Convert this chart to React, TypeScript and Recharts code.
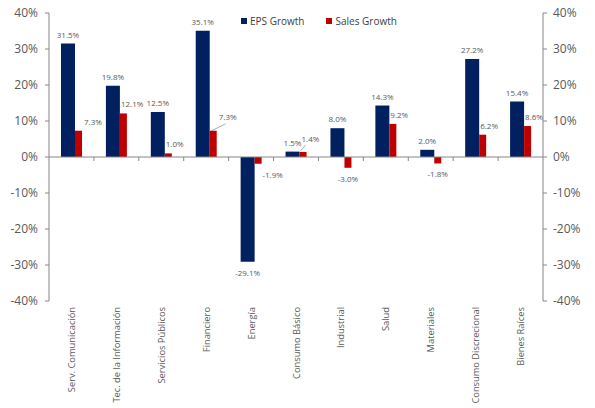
import { BarChart, Bar, XAxis, YAxis, ReferenceLine, LabelList } from "recharts"

const sectors = [
  "Serv. Comunicación",
  "Tec. de la Información",
  "Servicios Públicos",
  "Financiero",
  "Energía",
  "Consumo Básico",
  "Industrial",
  "Salud",
  "Materiales",
  "Consumo Discrecional",
  "Bienes Raíces",
]
const epsGrowth = [31.5, 19.8, 12.5, 35.1, -29.1, 1.5, 8.0, 14.3, 2.0, 27.2, 15.4]
const salesGrowth = [7.3, 12.1, 1.0, 7.3, -1.9, 1.4, -3.0, 9.2, -1.8, 6.2, 8.6]
const yTicks = [-40, -30, -20, -10, 0, 10, 20, 30, 40]

const NAVY = "#002060"
const RED = "#c00000"
const GRAY = "#868686"
const TEXT = "#595959"
const FONT = "'Open Sans', 'Noto Sans', sans-serif"

const data = sectors.map((sector, i) => ({
  sector,
  eps: epsGrowth[i],
  sales: salesGrowth[i],
}))

const pct = (v: number) => `${v.toFixed(1)}%`

function EpsLabel(props: any) {
  const { x, y, width, height, value } = props
  const top = Math.min(y, y + height)
  const bottom = Math.max(y, y + height)
  const cx = x + width / 2
  const ty = value < 0 ? bottom + 14 : top - 6
  return (
    <text x={cx} y={ty} textAnchor="middle" fontSize={8} fill={TEXT} fontFamily={FONT}>
      {pct(value)}
    </text>
  )
}

function SalesLabel(props: any) {
  const { x, y, width, height, value, index } = props
  const top = Math.min(y, y + height)
  const bottom = Math.max(y, y + height)
  const name = sectors[index]
  if (value < 0) {
    const cx = name === "Energía" ? x + width + 11 : x + width / 2
    return (
      <text x={cx} y={bottom + 14} textAnchor="middle" fontSize={8} fill={TEXT} fontFamily={FONT}>
        {pct(value)}
      </text>
    )
  }
  // leader lines where the label sits away from its bar
  if (name === "Financiero") {
    return (
      <g>
        <line x1={x + 2} y1={top} x2={x + 16} y2={top - 7} stroke={GRAY} strokeWidth={0.7} />
        <text x={x + 9} y={top - 11} fontSize={8} fill={TEXT} fontFamily={FONT}>
          {pct(value)}
        </text>
      </g>
    )
  }
  if (name === "Consumo Básico") {
    return (
      <g>
        <line x1={x + 1} y1={top - 1} x2={x + 6} y2={top - 7} stroke={GRAY} strokeWidth={0.7} />
        <text x={x + 2} y={top - 10} fontSize={8} fill={TEXT} fontFamily={FONT}>
          {pct(value)}
        </text>
      </g>
    )
  }
  const tx = name === "Serv. Comunicación" ? x + width + 2 : x + 1
  return (
    <text x={tx} y={top - 6} fontSize={8} fill={TEXT} fontFamily={FONT}>
      {pct(value)}
    </text>
  )
}

function SectorTick({ x, y, payload }: any) {
  return (
    <text
      x={x}
      y={y}
      transform={`rotate(-90 ${x} ${y})`}
      textAnchor="end"
      dominantBaseline="central"
      fontSize={9.3}
      fill={TEXT}
      fontFamily={FONT}
    >
      {payload.value}
    </text>
  )
}

function ZeroAxis(props: any) {
  const { x1, y1, x2, y2 } = props
  const step = (x2 - x1) / sectors.length
  const marks = sectors.slice(1).map((_, i) => {
    const tx = x1 + step * (i + 1)
    return <line key={i} x1={tx} y1={y1} x2={tx} y2={y1 + 4} stroke={GRAY} strokeWidth={1} />
  })
  return (
    <g>
      <line x1={x1} y1={y1} x2={x2} y2={y2} stroke={GRAY} strokeWidth={1} />
      {marks}
    </g>
  )
}

const tickStyle = { fontSize: 12, fill: TEXT, fontFamily: FONT }

export default function App() {
  return (
    <div style={{ position: "absolute", top: 0, left: 0, width: 595, height: 408, background: "#fff" }}>
      <BarChart
        width={595}
        height={408}
        data={data}
        margin={{ top: 13, right: 0, bottom: 0, left: 0 }}
        barGap={0}
      >
        <XAxis
          dataKey="sector"
          xAxisId="x"
          height={107}
          axisLine={false}
          tickLine={false}
          tickSize={0}
          tickMargin={6}
          interval={0}
          tick={<SectorTick />}
        />
        <YAxis
          yAxisId="left"
          width={49}
          domain={[-40, 40]}
          ticks={yTicks}
          tickFormatter={(v: number) => `${v}%`}
          tick={tickStyle}
          axisLine={{ stroke: GRAY }}
          tickLine={{ stroke: GRAY }}
          tickSize={4}
          tickMargin={7}
        />
        <YAxis
          yAxisId="right"
          orientation="right"
          width={52}
          domain={[-40, 40]}
          ticks={yTicks}
          tickFormatter={(v: number) => `${v}%`}
          tick={tickStyle}
          axisLine={{ stroke: GRAY }}
          tickLine={{ stroke: GRAY }}
          tickSize={4}
          tickMargin={6}
        />
        <Bar dataKey="eps" xAxisId="x" yAxisId="left" fill={NAVY} barSize={14} isAnimationActive={false}>
          <LabelList dataKey="eps" content={<EpsLabel />} />
        </Bar>
        <Bar dataKey="sales" xAxisId="x" yAxisId="right" fill={RED} barSize={7} isAnimationActive={false}>
          <LabelList dataKey="sales" content={<SalesLabel />} />
        </Bar>
        <ReferenceLine y={0} xAxisId="x" yAxisId="left" shape={<ZeroAxis />} />
      </BarChart>
      <div
        style={{
          position: "absolute",
          top: 14,
          left: 241,
          display: "flex",
          gap: 22,
          fontFamily: FONT,
          fontSize: 10,
          color: "#404040",
          lineHeight: "14px",
        }}
      >
        <span style={{ display: "flex", alignItems: "center" }}>
          <span style={{ width: 6, height: 6, background: NAVY, marginRight: 3 }} />
          EPS Growth
        </span>
        <span style={{ display: "flex", alignItems: "center" }}>
          <span style={{ width: 6, height: 6, background: RED, marginRight: 3 }} />
          Sales Growth
        </span>
      </div>
    </div>
  )
}
